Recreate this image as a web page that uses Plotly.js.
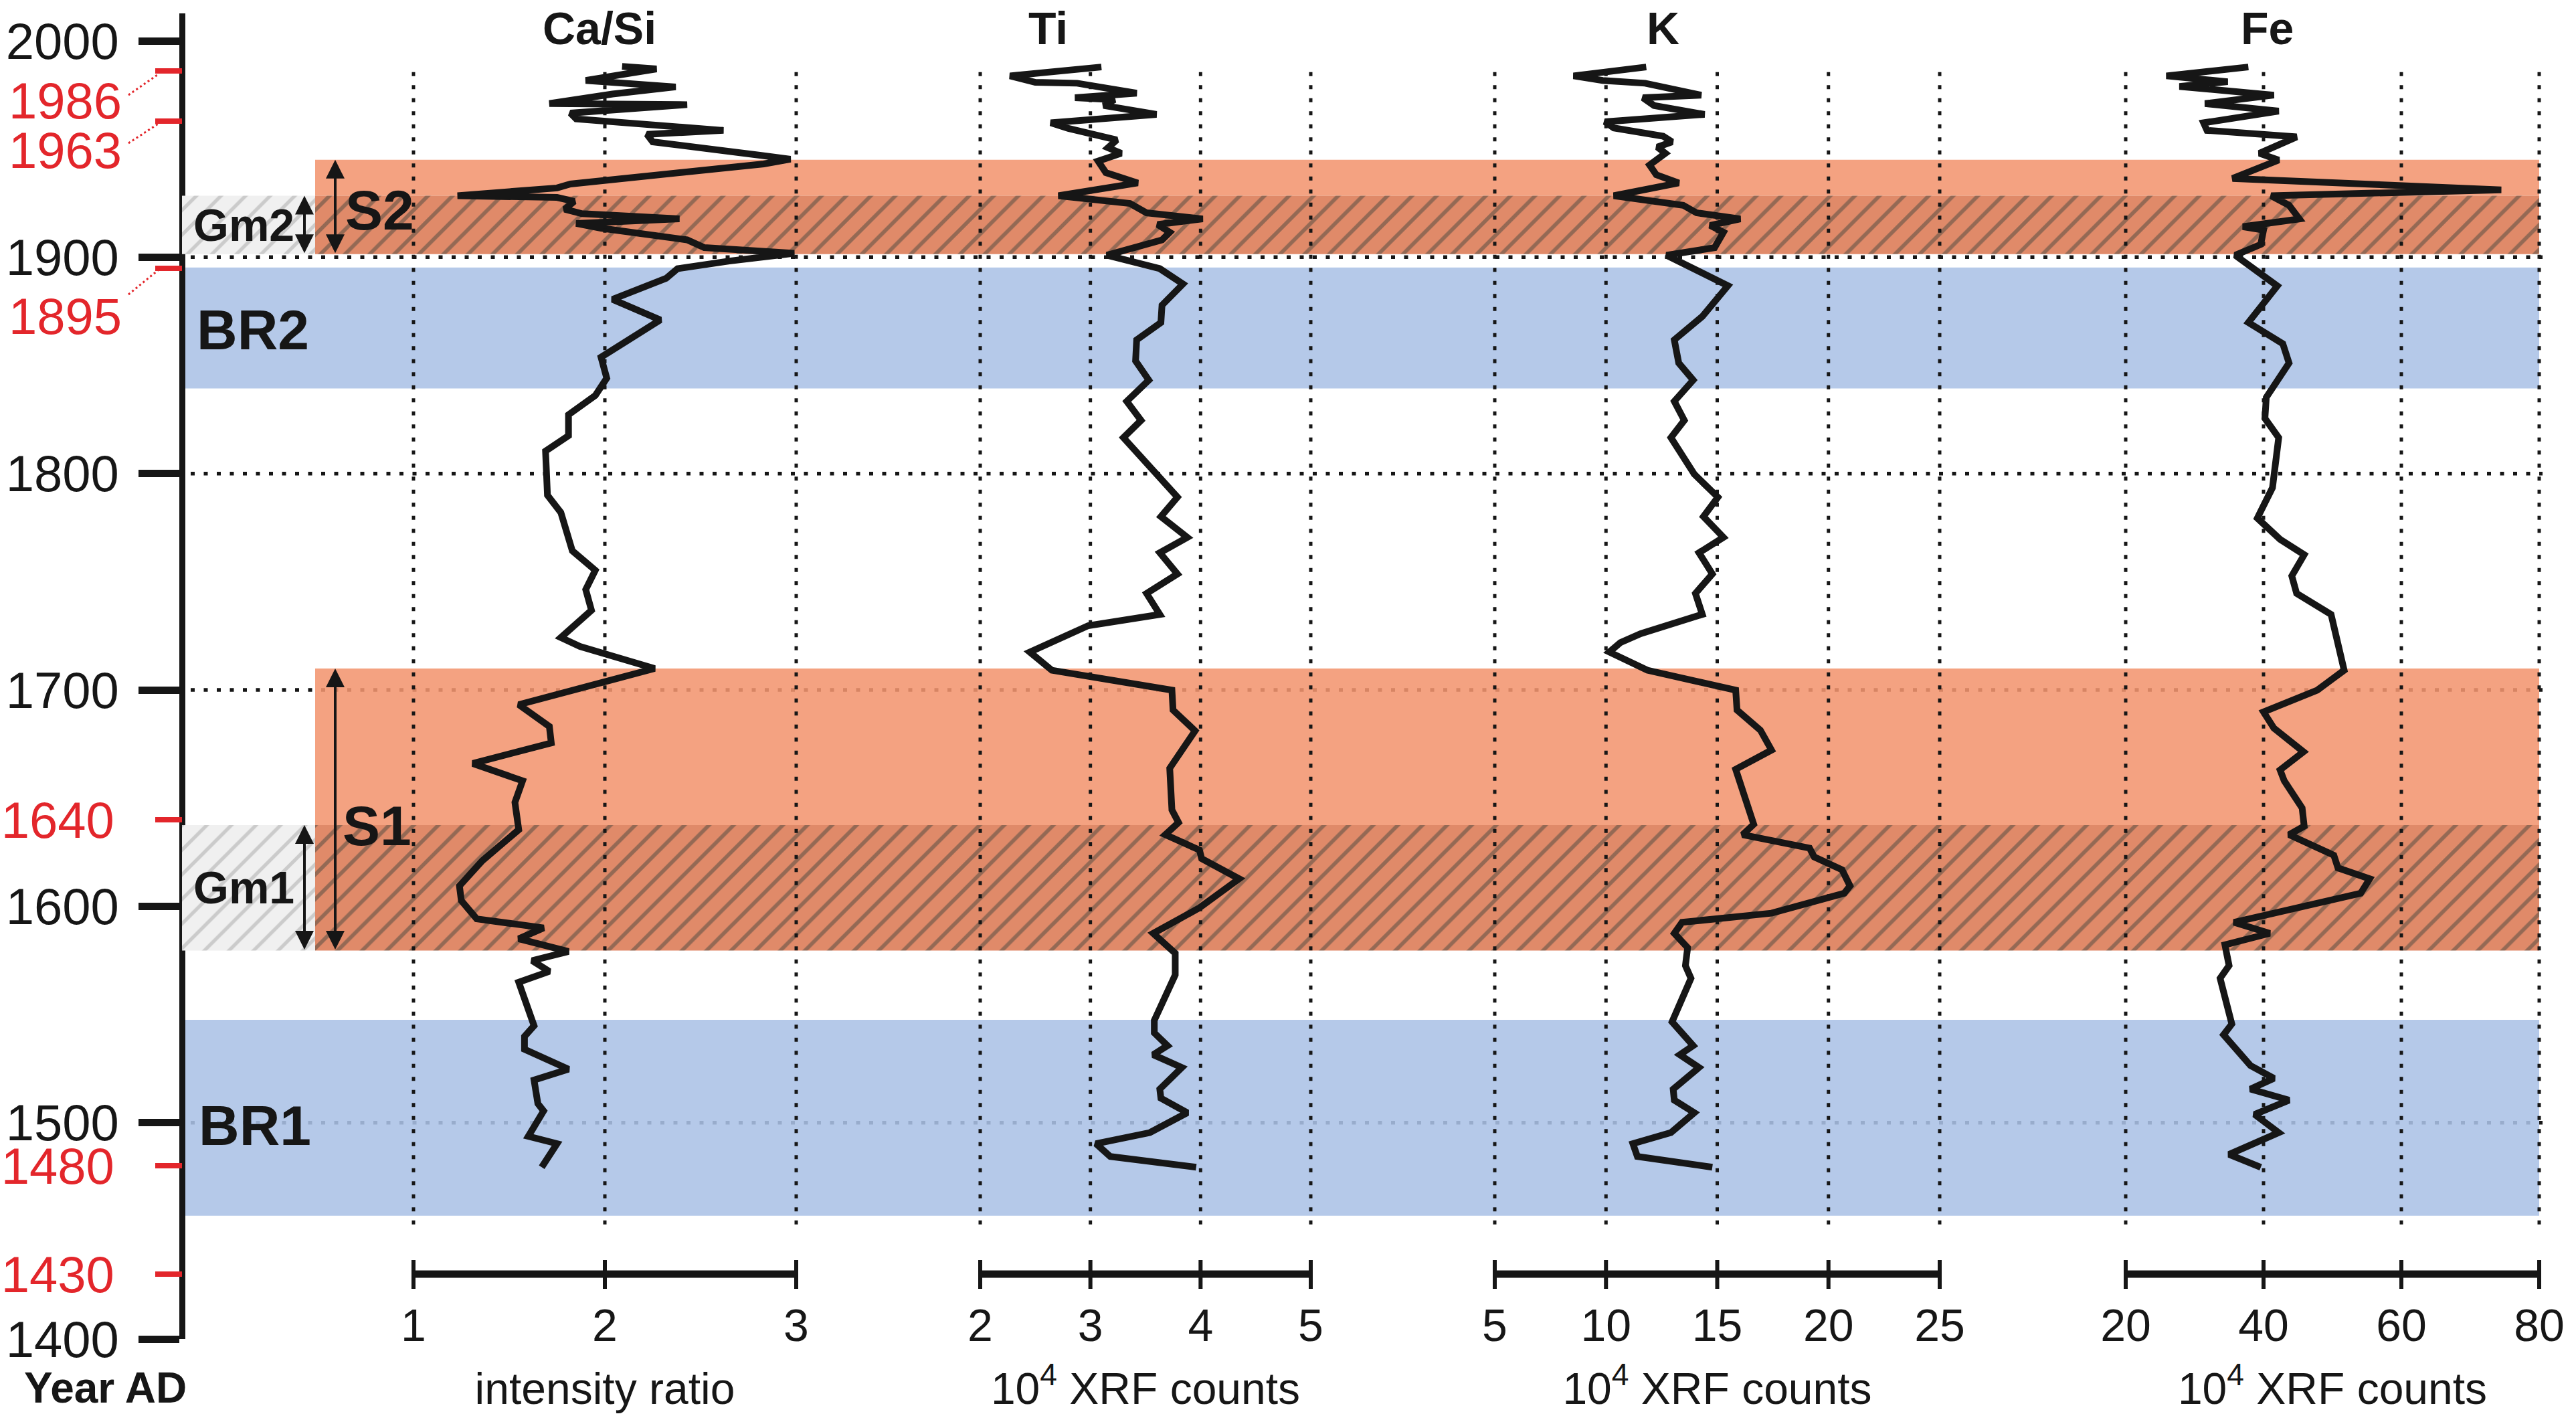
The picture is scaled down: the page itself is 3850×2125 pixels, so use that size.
<!DOCTYPE html>
<html><head><meta charset="utf-8">
<script src="https://cdn.plot.ly/plotly-3.0.1.min.js"></script>
<style>html,body{margin:0;padding:0;background:#fff}#chart{width:3850px;height:2125px}</style>
</head><body><div id="chart"></div>
<script>
// ---------------- data ----------------
const caSiYear = [1988.2,1987.0,1981.7,1978.7,1975.4,1971.0,1970.5,1966.6,1963.9,1961.2,1958.6,1956.8,1953.3,1947.1,1945.3,1943.1,1933.8,1932.0,1928.4,1927.6,1925.8,1922.2,1920.1,1917.7,1915.6,1913.4,1908.0,1904.4,1901.8,1898.2,1894.7,1890.2,1880.5,1871.0,1853.8,1844.1,1836.1,1827.2,1817.5,1810.4,1790.0,1782.0,1764.3,1755.3,1746.4,1736.8,1724.2,1720.1,1709.9,1693.2,1683.1,1675.5,1666.0,1658.0,1648.0,1635.4,1621.1,1609.4,1602.6,1594.2,1590.0,1585.0,1579.1,1574.9,1569.9,1564.9,1544.8,1539.8,1533.9,1524.7,1519.7,1508.8,1505.4,1493.7,1490.3,1479.4];
const caSiValue = [2.09,2.27,1.90,2.37,2.04,1.71,2.43,1.82,1.85,2.22,2.62,2.22,2.25,2.81,2.97,2.83,1.82,1.75,1.23,1.75,1.84,1.79,1.88,2.39,1.85,1.98,2.43,2.52,2.99,2.65,2.38,2.32,2.04,2.29,1.98,2.01,1.95,1.81,1.81,1.69,1.70,1.77,1.83,1.95,1.90,1.93,1.77,1.87,2.26,1.55,1.71,1.72,1.31,1.57,1.53,1.55,1.36,1.24,1.25,1.33,1.68,1.55,1.81,1.62,1.71,1.55,1.63,1.58,1.58,1.81,1.63,1.65,1.68,1.60,1.75,1.67];

const tiYear = [1987.9,1983.8,1980.8,1980.4,1975.8,1973.7,1972.8,1970.1,1966.0,1962.1,1959.5,1954.2,1950.6,1948.0,1944.4,1939.1,1934.3,1928.4,1924.8,1920.5,1917.7,1915.1,1911.5,1908.0,1900.9,1894.7,1887.6,1877.8,1869.8,1861.8,1852.1,1843.2,1833.4,1824.6,1816.6,1799.7,1789.1,1780.1,1770.5,1763.4,1753.6,1744.6,1734.9,1729.7,1721.9,1717.5,1709.1,1699.9,1690.7,1681.1,1663.8,1644.5,1638.7,1633.1,1626.0,1622.0,1612.7,1599.3,1587.5,1578.3,1568.3,1547.3,1541.5,1535.6,1531.4,1525.5,1515.5,1511.3,1504.6,1495.4,1490.3,1484.4,1479.4];
const tiValue = [3.10,2.27,2.50,2.88,3.42,2.86,3.22,3.12,3.60,2.64,2.80,3.24,3.16,3.28,3.07,3.14,3.43,2.71,3.36,3.51,4.02,3.61,3.72,3.65,3.15,3.63,3.84,3.65,3.64,3.42,3.41,3.53,3.33,3.46,3.30,3.59,3.79,3.64,3.88,3.63,3.79,3.51,3.63,2.98,2.62,2.45,2.65,3.74,3.75,3.95,3.72,3.74,3.80,3.68,3.99,4.01,4.35,3.99,3.57,3.77,3.77,3.58,3.58,3.70,3.57,3.83,3.63,3.64,3.88,3.54,3.05,3.18,3.96];

const kYear = [1987.9,1983.8,1981.7,1980.4,1974.9,1973.7,1970.1,1966.0,1962.6,1959.7,1955.9,1953.3,1950.9,1948.0,1942.6,1938.1,1934.3,1928.4,1924.0,1920.5,1917.7,1914.7,1911.5,1904.4,1900.9,1894.7,1886.8,1872.6,1861.8,1851.1,1843.2,1833.4,1824.6,1816.6,1799.7,1789.1,1780.1,1770.5,1763.4,1753.6,1744.6,1734.9,1726.0,1721.9,1717.5,1709.1,1699.9,1690.7,1681.4,1672.2,1663.3,1637.9,1633.1,1626.9,1622.8,1616.9,1609.4,1606.0,1596.8,1592.6,1587.5,1580.9,1572.6,1566.7,1546.6,1535.6,1531.4,1525.5,1515.5,1510.4,1504.6,1495.4,1490.3,1484.4,1479.4];
const kValue = [11.81,8.54,9.85,11.76,14.28,11.66,12.16,14.43,9.95,10.35,12.57,12.97,12.31,12.67,11.96,12.26,13.27,10.35,13.47,14.07,16.04,14.68,15.28,14.88,12.72,13.87,15.48,14.33,13.07,13.27,13.92,13.07,13.52,12.92,13.97,15.03,14.38,15.28,14.18,14.78,14.02,14.33,11.56,10.65,10.15,11.86,15.83,15.89,16.94,17.44,15.83,16.64,16.14,19.15,19.36,20.61,20.97,20.71,17.44,13.42,13.07,13.67,13.57,13.82,12.97,13.92,13.32,14.18,13.02,13.07,13.97,12.92,11.21,11.41,14.78];

const feYear = [1987.9,1983.8,1981.1,1978.9,1974.9,1971.0,1967.5,1962.1,1958.6,1955.6,1948.0,1944.9,1936.4,1931.1,1928.4,1924.0,1917.7,1914.1,1912.5,1905.9,1900.9,1886.7,1869.8,1860.0,1851.1,1835.2,1825.5,1816.6,1793.5,1779.4,1769.6,1762.5,1752.7,1744.6,1734.9,1721.9,1709.1,1699.9,1689.8,1682.3,1671.4,1663.0,1658.0,1645.4,1637.0,1633.1,1623.6,1617.7,1612.7,1606.0,1592.6,1587.5,1582.2,1572.6,1566.7,1545.6,1540.6,1526.4,1520.5,1515.5,1510.4,1503.8,1495.4,1485.3,1479.4];
const feValue = [37.8,25.9,34.8,27.8,41.5,31.5,42.2,31.3,31.8,44.8,39.4,42.2,35.5,74.5,41.1,43.7,45.2,37.0,40.0,39.6,35.9,42.0,37.8,42.8,43.7,40.4,40.2,42.2,41.3,39.1,42.4,45.9,44.1,44.8,49.8,50.8,51.7,47.8,40.0,41.5,45.8,42.4,43.0,45.6,45.9,43.7,50.2,50.8,55.4,54.1,35.7,40.9,34.4,35.0,33.7,35.4,34.2,38.1,41.5,38.1,43.7,38.7,42.2,35.0,39.6];

// tick values
const caSiTicks = [1, 2, 3];
const tiTicks = [2, 3, 4, 5];
const kTicks = [5, 10, 15, 20, 25];
const feTicks = [20, 40, 60, 80];
const yearTicks = [1400, 1500, 1600, 1700, 1800, 1900, 2000];
const redYearTicks = [1986, 1963, 1895, 1640, 1480, 1430];
const offsetRedYears = [1986, 1963, 1895];
const hGridYears = [1900, 1800, 1700, 1500];
const gridYearRange = [1453, 1988];

// zones (years)
const sZoneTop = [1945.0, 1709.9];
const gmZoneTop = [1928.4, 1637.5];
const sZoneBottom = [1901.4, 1579.5];
const brZoneTop = [1895.2, 1547.5];
const brZoneBottom = [1839.3, 1457.0];
const sLabels = ['S2', 'S1'];
const gmLabels = ['Gm2', 'Gm1'];
const brLabels = ['BR2', 'BR1'];

// ---------------- layout helpers ----------------
const W = 3850, H = 2125;
const px2x = p => p / W;
const px2y = p => 1 - p / H;
const RED = '#E3262B', INK = '#161616';
const FONT = 'Liberation Sans, Arial, Helvetica, sans-serif';
const yTopPx = 61, yBotPx = 2001, axisTopPx = 20;
const yearPerPx = 600 / (yBotPx - yTopPx);
const yMax = 2000 + (yTopPx - axisTopPx) * yearPerPx;

const panels = [
  {name: 'Ca/Si', year: caSiYear, val: caSiValue, ticks: caSiTicks, p0: 618, p1: 1190, head: 896, title: 'intensity ratio'},
  {name: 'Ti', year: tiYear, val: tiValue, ticks: tiTicks, p0: 1465, p1: 1959, head: 1566, title: '10<sup>4</sup> XRF counts'},
  {name: 'K', year: kYear, val: kValue, ticks: kTicks, p0: 2234, p1: 2899, head: 2485, title: '10<sup>4</sup> XRF counts'},
  {name: 'Fe', year: feYear, val: feValue, ticks: feTicks, p0: 3177, p1: 3795, head: 3388, title: '10<sup>4</sup> XRF counts'}
];

const traces = [];
const shapes = [];
const annotations = [];
const layout = {
  width: W, height: H, margin: {l: 0, r: 0, t: 0, b: 0},
  paper_bgcolor: '#fff', plot_bgcolor: 'rgba(0,0,0,0)',
  showlegend: false, barmode: 'overlay',
  font: {family: FONT, color: INK},
  yaxis: {
    domain: [px2y(yBotPx), px2y(axisTopPx)], range: [1400, yMax], autorange: false,
    anchor: 'free', position: px2x(272), side: 'left',
    showline: true, linewidth: 9, linecolor: INK,
    ticks: 'outside', ticklen: 61, tickwidth: 11, tickcolor: INK,
    tickvals: yearTicks, ticktext: yearTicks.map(String),
    tickfont: {size: 76, color: INK, family: FONT}, ticklabelstandoff: 14,
    showgrid: false, zeroline: false, fixedrange: true
  },
  yaxis2: {
    overlaying: 'y', range: [1400, yMax], autorange: false,
    anchor: 'free', position: px2x(272), side: 'left', showline: false,
    ticks: 'outside', ticklen: 40, tickwidth: 8, tickcolor: RED,
    tickvals: redYearTicks,
    ticktext: redYearTicks.map(v => offsetRedYears.includes(v) ? '' : String(v)),
    tickfont: {size: 76, color: RED, family: FONT}, ticklabelstandoff: 46,
    showgrid: false, zeroline: false, fixedrange: true
  }
};

// zone axes (x, x2, x3) : drawn first so curves lie above
const zoneAxes = {
  xaxis: [272, 3795],   // BR zones
  xaxis2: [471, 3795],  // S zones
  xaxis3: [272, 471]    // Gm zones
};
Object.keys(zoneAxes).forEach(k => {
  layout[k] = {domain: [px2x(zoneAxes[k][0]), px2x(zoneAxes[k][1])], range: [0, 1], autorange: false,
    visible: false, anchor: 'y', fixedrange: true};
});

const OP = 0.88;
traces.push({type: 'bar', xaxis: 'x', yaxis: 'y', x: brZoneTop.map(() => 0.5), width: brZoneTop.map(() => 1),
  base: brZoneBottom, y: brZoneTop.map((t, i) => t - brZoneBottom[i]),
  marker: {color: '#ABC1E6', line: {width: 0}}, opacity: OP, hoverinfo: 'skip'});
traces.push({type: 'bar', xaxis: 'x2', yaxis: 'y', x: sZoneTop.map(() => 0.5), width: sZoneTop.map(() => 1),
  base: gmZoneTop, y: sZoneTop.map((t, i) => t - gmZoneTop[i]),
  marker: {color: '#F3956F', line: {width: 0}}, opacity: OP, hoverinfo: 'skip'});
traces.push({type: 'bar', xaxis: 'x2', yaxis: 'y', x: gmZoneTop.map(() => 0.5), width: gmZoneTop.map(() => 1),
  base: sZoneBottom, y: gmZoneTop.map((t, i) => t - sZoneBottom[i]),
  marker: {color: '#DC7A55', line: {width: 0},
    pattern: {shape: '/', bgcolor: '#DC7A55', fgcolor: '#85543D', size: 26, solidity: 0.22, fillmode: 'replace'}},
  opacity: OP, hoverinfo: 'skip'});
traces.push({type: 'bar', xaxis: 'x3', yaxis: 'y', x: gmZoneTop.map(() => 0.5), width: gmZoneTop.map(() => 1),
  base: sZoneBottom, y: gmZoneTop.map((t, i) => t - sZoneBottom[i]),
  marker: {color: '#F0F0F0', line: {width: 0},
    pattern: {shape: '/', bgcolor: '#F0F0F0', fgcolor: '#CBCBCB', size: 26, solidity: 0.2, fillmode: 'replace'}},
  hoverinfo: 'skip'});

// horizontal dotted grid lines (below zones)
hGridYears.forEach(yv => shapes.push({type: 'line', layer: 'below', xref: 'paper', yref: 'y',
  x0: px2x(285), x1: px2x(3800), y0: yv, y1: yv, line: {color: INK, width: 5.5, dash: '6px,13.5px'}}));

// data panels
const PAD = 50;
panels.forEach((p, i) => {
  const n = 4 + i, id = 'x' + n;
  const t0 = p.ticks[0], t1 = p.ticks[p.ticks.length - 1];
  const k = (t1 - t0) / (p.p1 - p.p0);
  layout['xaxis' + n] = {
    domain: [px2x(p.p0 - PAD), px2x(p.p1 + PAD)], range: [t0 - PAD * k, t1 + PAD * k], autorange: false,
    anchor: 'free', position: px2y(1903), side: 'bottom',
    showline: false, ticks: '', tickvals: p.ticks, ticktext: p.ticks.map(String),
    tickfont: {size: 68, color: INK, family: FONT}, ticklabelstandoff: 32,
    showgrid: false, zeroline: false, fixedrange: true,
    title: {text: p.title, font: {size: 66, color: INK, family: FONT}, standoff: 34}
  };
  traces.push({type: 'scatter', mode: 'lines', xaxis: id, yaxis: 'y', x: p.val, y: p.year,
    line: {color: INK, width: 10}, hoverinfo: 'skip'});
  // scale bar
  shapes.push({type: 'line', xref: id, yref: 'paper', x0: t0, x1: t1, y0: px2y(1904), y1: px2y(1904),
    line: {color: INK, width: 11}});
  p.ticks.forEach(t => {
    shapes.push({type: 'line', xref: id, yref: 'paper', x0: t, x1: t, y0: px2y(1883), y1: px2y(1926),
      line: {color: INK, width: 6}});
    shapes.push({type: 'line', layer: 'above', xref: id, yref: 'y', x0: t, x1: t,
      y0: gridYearRange[0], y1: gridYearRange[1], line: {color: INK, width: 5, dash: '6px,13.5px'}});
  });
  annotations.push({text: '<b>' + p.name + '</b>', xref: 'paper', yref: 'paper', x: px2x(p.head), y: px2y(42),
    xanchor: 'center', yanchor: 'middle', showarrow: false, font: {size: 68, color: INK, family: FONT}});
});
// empty trace for the red overlay axis
traces.push({type: 'scatter', x: [], y: [], xaxis: 'x4', yaxis: 'y2', hoverinfo: 'skip'});

// offset red year labels with dotted leaders
const redLabelPx = [151, 225, 472];
const leaderPx = [[192, 142, 238, 110], [192, 214, 238, 184], [192, 440, 236, 404]];
offsetRedYears.forEach((yv, i) => {
  annotations.push({text: String(yv), xref: 'paper', yref: 'paper', x: px2x(184), y: px2y(redLabelPx[i]),
    xanchor: 'right', yanchor: 'middle', showarrow: false, font: {size: 76, color: RED, family: FONT}});
  const L = leaderPx[i];
  shapes.push({type: 'line', xref: 'paper', yref: 'paper', x0: px2x(L[0]), y0: px2y(L[1]), x1: px2x(L[2]), y1: px2y(L[3]),
    line: {color: RED, width: 3, dash: '3px,4px'}});
});

// zone labels
const sLabelPx = [[567, 314], [563, 1234]];
const gmLabelPx = [[364, 336], [364, 1326]];
const brLabelPx = [[378, 493], [381, 1682]];
function addLabel(txt, pos, size) {
  annotations.push({text: '<b>' + txt + '</b>', xref: 'paper', yref: 'paper', x: px2x(pos[0]), y: px2y(pos[1]),
    xanchor: 'center', yanchor: 'middle', showarrow: false, font: {size: size, color: INK, family: FONT}});
}
sLabels.forEach((t, i) => addLabel(t, sLabelPx[i], 84));
gmLabels.forEach((t, i) => addLabel(t, gmLabelPx[i], 68));
brLabels.forEach((t, i) => addLabel(t, brLabelPx[i], 84));
addLabel('Year AD', [157, 2074], 64);

// double-headed arrows for S and Gm zones
function addArrow(xPx, yA, yB) {
  annotations.push({text: '', xref: 'paper', yref: 'y', x: px2x(xPx), y: yA, axref: 'pixel', ayref: 'y', ax: 0, ay: yB,
    showarrow: true, arrowside: 'end+start', arrowhead: 2, startarrowhead: 2, arrowsize: 1.4, startarrowsize: 1.4,
    arrowwidth: 4, arrowcolor: INK, standoff: 0, startstandoff: 0});
}
sZoneTop.forEach((t, i) => addArrow(501, t, sZoneBottom[i]));
gmZoneTop.forEach((t, i) => addArrow(455, t, sZoneBottom[i]));

layout.shapes = shapes;
layout.annotations = annotations;
Plotly.newPlot('chart', traces, layout, {staticPlot: true, displayModeBar: false});
</script></body></html>
